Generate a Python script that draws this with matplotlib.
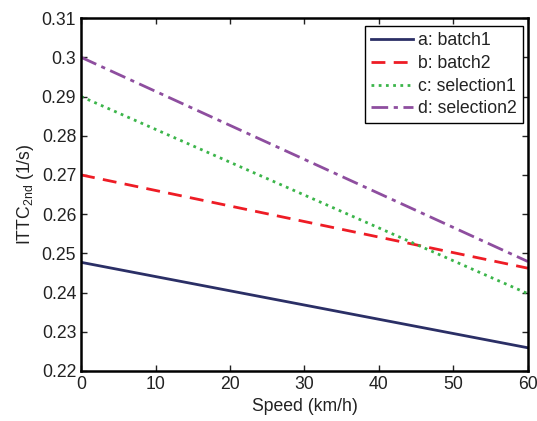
import numpy as np
import matplotlib
matplotlib.use('Agg')
import matplotlib.pyplot as plt

plt.rcParams['font.family'] = ['Liberation Sans', 'DejaVu Sans']
plt.rcParams['mathtext.fontset'] = 'custom'
plt.rcParams['mathtext.rm'] = 'Liberation Sans'

speed = [0, 60]
batch1 = [0.2477, 0.2259]
batch2 = [0.2700, 0.2462]
selection1 = [0.2900, 0.2397]
selection2 = [0.3000, 0.2479]

labels = ['a: batch1', 'b: batch2', 'c: selection1', 'd: selection2']
xticks = [0, 10, 20, 30, 40, 50, 60]
yticks = [0.22, 0.23, 0.24, 0.25, 0.26, 0.27, 0.28, 0.29, 0.3, 0.31]
yticklabels = ['0.22', '0.23', '0.24', '0.25', '0.26', '0.27', '0.28', '0.29', '0.3', '0.31']

fs = 12.7
fig = plt.figure(figsize=(5.37, 4.21), dpi=100)
ax = fig.add_axes([0.151, 0.119, 0.832, 0.838])

ax.plot(speed, batch1, color='#2b2f66', lw=2, ls='-', label=labels[0])
ax.plot(speed, batch2, color='#ee1c25', lw=2, ls=(0, (5, 3)), label=labels[1])
ax.plot(speed, selection1, color='#3bb54a', lw=2, ls=(0, (1, 1.6)), label=labels[2])
ax.plot(speed, selection2, color='#8e4e9f', lw=2, ls=(0, (6, 2, 1.5, 2)), label=labels[3])

ax.set_xlim(0, 60)
ax.set_ylim(0.22, 0.31)
ax.set_xticks(xticks)
ax.set_yticks(yticks)
ax.set_yticklabels(yticklabels)
ax.tick_params(direction='in', top=True, right=True, labelsize=fs, length=4, width=1, colors='#222222')
for s in ax.spines.values():
    s.set_linewidth(1.8)

ax.set_xlabel('Speed (km/h)', fontsize=fs, color='#222222')
ax.set_ylabel(r'ITTC$_{\mathregular{2nd}}$ (1/s)', fontsize=fs, color='#222222')

leg = ax.legend(loc='upper right', fontsize=fs, fancybox=False, framealpha=1,
                edgecolor='black', handlelength=2.4, handletextpad=0.3, borderpad=0.35,
                labelspacing=0.32, borderaxespad=0, bbox_to_anchor=(0.99, 0.977))
leg.get_frame().set_linewidth(1)
for t in leg.get_texts():
    t.set_color('#222222')

fig.savefig('out.png', dpi=100)
